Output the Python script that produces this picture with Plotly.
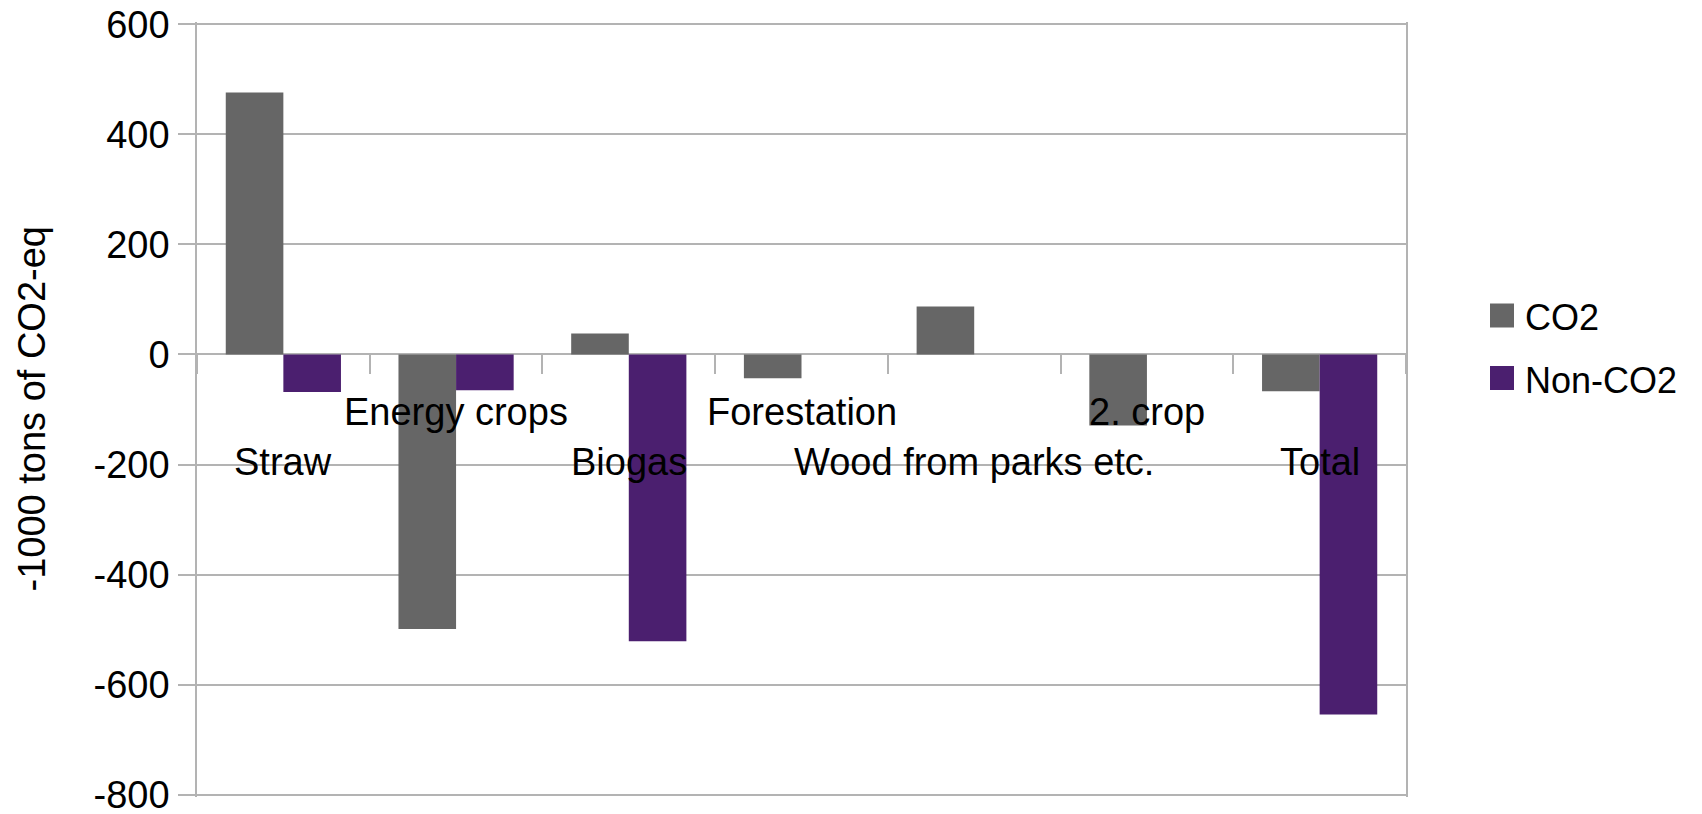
import plotly.graph_objects as go

# Emission changes per measure, 1000 tons CO2-eq
categories = ["Straw", "Energy crops", "Biogas", "Forestation",
              "Wood from parks etc.", "2. crop", "Total"]
co2 = [476, -499, 38, -43, 87, -129, -67]
non_co2 = [-68, -65, -521, 0, 0, 0, -654]
series_names = ["CO2", "Non-CO2"]
y_ticks = [600, 400, 200, 0, -200, -400, -600, -800]

GREY = "#666666"
PURPLE = "#4b1f6f"
GRID = "#b3b3b3"
FONT = "Liberation Sans, Arial, sans-serif"

# plot area in pixels
W, H = 1702, 814
L, R, T, B = 197, 1406, 22, 797
pw, ph = R - L, B - T

def px_x(x):
    return (x - L) / pw

def px_y(y):
    return (B - y) / ph

fig = go.Figure()
fig.add_trace(go.Bar(x=categories, y=co2, name=series_names[0],
                     marker=dict(color=GREY, line=dict(width=0))))
fig.add_trace(go.Bar(x=categories, y=non_co2, name=series_names[1],
                     marker=dict(color=PURPLE, line=dict(width=0))))

# pad the range a little so the end gridlines are not clipped away
y_min, y_max = y_ticks[-1] - 4, y_ticks[0] + 4
zero_pos = (0 - y_min) / (y_max - y_min)

# category labels, staggered in two rows under the zero line
annotations = []
for i, cat in enumerate(categories):
    annotations.append(dict(
        x=cat, y=0, xref="x", yref="y", text=cat, showarrow=False,
        xanchor="center", yanchor="middle",
        yshift=-58 if i % 2 else -108,
        font=dict(family=FONT, size=38, color="#000000")))

# axis title
annotations.append(dict(
    x=px_x(31), y=0.5, xref="paper", yref="paper",
    text="-1000 tons of CO2-eq", textangle=-90, showarrow=False,
    xanchor="center", yanchor="middle",
    font=dict(family=FONT, size=38, color="#000000")))

# legend
shapes = []
legend_rows = [(series_names[0], GREY, 315.5), (series_names[1], PURPLE, 378)]
for name, color, cy in legend_rows:
    shapes.append(dict(type="rect", xref="paper", yref="paper",
                       x0=px_x(1490), x1=px_x(1514),
                       y0=px_y(cy + 12), y1=px_y(cy - 12),
                       fillcolor=color, line=dict(width=0)))
    annotations.append(dict(
        x=px_x(1523), y=px_y(cy + 2), xref="paper", yref="paper",
        text=name, showarrow=False, xanchor="left", yanchor="middle",
        font=dict(family=FONT, size=36, color="#000000")))

fig.update_layout(
    width=W, height=H,
    margin=dict(l=L, r=W - R, t=T, b=H - B, autoexpand=False),
    paper_bgcolor="white", plot_bgcolor="white",
    barmode="group", bargap=0.333, bargroupgap=0,
    showlegend=False,
    font=dict(family=FONT, size=38, color="#000000"),
    annotations=annotations, shapes=shapes,
    xaxis=dict(
        type="category", range=[-0.5, len(categories) - 0.5],
        anchor="free", position=zero_pos,
        showline=True, linecolor=GRID, linewidth=1.5,
        ticks="outside", tickson="boundaries", ticklen=19,
        tickcolor=GRID, tickwidth=1.5,
        showticklabels=False, showgrid=False, zeroline=False,
        layer="below traces", fixedrange=True),
    yaxis=dict(
        range=[y_min, y_max], tickvals=y_ticks,
        ticktext=[str(v) for v in y_ticks],
        showline=True, mirror=True, linecolor=GRID, linewidth=1.5,
        ticks="outside", ticklen=17, tickcolor=GRID, tickwidth=1.5,
        showgrid=True, gridcolor=GRID, gridwidth=1.5, zeroline=False,
        tickfont=dict(family=FONT, size=38, color="#000000"),
        ticklabeloverflow="allow",
        ticklabelstandoff=1, layer="below traces", fixedrange=True),
)

fig.write_html("out.html")
